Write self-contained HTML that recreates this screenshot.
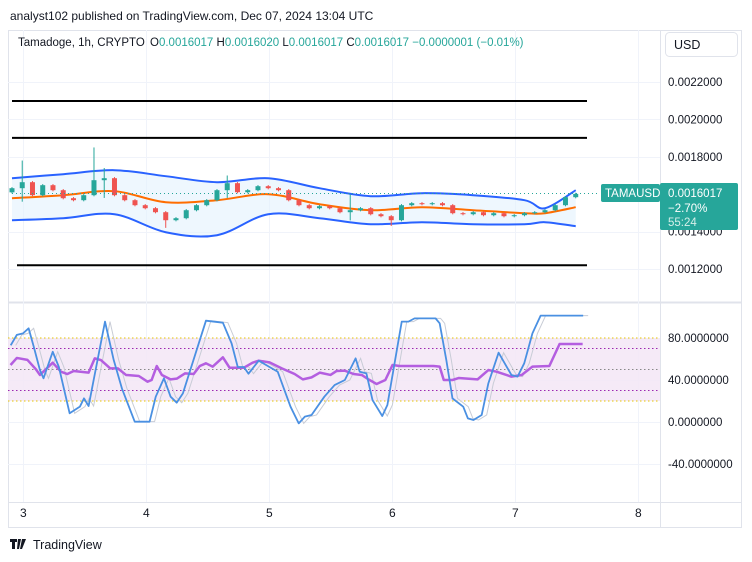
<!DOCTYPE html>
<html><head><meta charset="utf-8">
<style>
body{margin:0;background:#fff;font-family:"Liberation Sans",sans-serif;}
#wrap{position:relative;width:752px;height:562px;overflow:hidden;background:#fff}
</style></head>
<body>
<div id="wrap">
<svg id="svg" width="752" height="562" xmlns="http://www.w3.org/2000/svg" font-family="Liberation Sans, sans-serif">
  <text x="10" y="20" font-size="12" fill="#131722">analyst102 published on TradingView.com, Dec 07, 2024 13:04 UTC</text>
  <rect x="8.5" y="30.5" width="733" height="497" fill="none" stroke="#e0e3eb"/>
  <line x1="660.5" y1="30" x2="660.5" y2="527" stroke="#e0e3eb"/>
  <line x1="8" y1="302.5" x2="742" y2="302.5" stroke="#e0e3eb" stroke-width="2"/>
  <line x1="8" y1="502.5" x2="742" y2="502.5" stroke="#e0e3eb"/>
  <g id="grid"></g>
  <g id="oscbg"></g>
  <g id="levels"></g>
  <g id="bb"></g>
  <g id="candles"></g>
  <g id="osc"></g>
  <g id="axes"></g>
  <g>
    <text x="18" y="46" font-size="11.5" fill="#131722">Tamadoge, 1h, CRYPTO</text>
    <text x="150" y="46" font-size="11.5" fill="#131722">O<tspan fill="#26a69a">0.0016017</tspan>  H<tspan fill="#26a69a">0.0016020</tspan>  L<tspan fill="#26a69a">0.0016017</tspan>  C<tspan fill="#26a69a">0.0016017</tspan>  <tspan fill="#26a69a">−0.0000001 (−0.01%)</tspan></text>
  </g>
  <g>
    <rect x="665.5" y="32.5" width="72" height="24" rx="4" fill="#fff" stroke="#e0e3eb"/>
    <text x="674" y="49" font-size="12.5" fill="#131722">USD</text>
  </g>
  <g>
    <line x1="12" y1="193.5" x2="600" y2="193.5" stroke="#26a69a" stroke-dasharray="1,3"/>
    <rect x="601" y="184" width="59" height="18" rx="2" fill="#26a69a"/>
    <text x="605" y="197" font-size="11.5" fill="#fff">TAMAUSD</text>
    <rect x="660" y="183" width="78" height="47" rx="2" fill="#26a69a"/>
    <text x="668" y="197" font-size="11.5" fill="#fff">0.0016017</text>
    <text x="668" y="212" font-size="11.5" fill="#fff">−2.70%</text>
    <text x="668" y="226" font-size="11.5" fill="#d5efe9">55:24</text>
  </g>
  <g>
    <path d="M10 539h7v3h-2v7h-3v-7h-2z M18 539h3l-2 10h-2z M22 539h4l-4 10h-2z" fill="#131722"/>
    <text x="33" y="549" font-size="12.5" fill="#131722">TradingView</text>
  </g>
</svg>
</div>
<script>
// ---- data ----
const closes = [0.0016321,0.0016642,0.0015947,0.0016482,0.0016214,0.0015786,0.0015679,0.0015947,0.0016749,0.0016856,
0.0015947,0.0015679,0.0015412,0.0015251,0.0015037,0.0014609,0.0014716,0.0015144,0.0015412,0.0015679,
0.0016214,0.0016589,0.0016107,0.0016214,0.0016428,0.0016321,0.0016214,0.0015679,0.0015412,0.0015251,
0.0015358,0.0015251,0.0015037,0.0015144,0.0015251,0.0014930,0.0014823,0.0014609,0.0015412,0.0015519,
0.0015465,0.0015519,0.0015412,0.0014984,0.0014930,0.0015037,0.0014877,0.0014984,0.0014823,0.0014877,
0.0014984,0.0015037,0.0015144,0.0015412,0.0015840,0.0016017];
const firstOpen = 0.0016100;
const spikeIdx = [1,8,9,15,21,33,37];
const spikeHigh = [0.0017800,0.0018500,0.0017400,0.0014700,0.0017000,0.0016000,0.0014700];
const spikeLow  = [0.0015600,0.0016000,0.0015800,0.0014200,0.0015800,0.0014600,0.0014300];
const bandIdx = [0,5,10,15,20,25,30,35,40,45,50,52,55];
const bbUpper = [0.0016856,0.0017070,0.0017284,0.0016963,0.0016642,0.0016856,0.0016321,0.0015893,0.0016054,0.0015947,0.0015679,0.0015251,0.0016214];
const bbMiddle = [0.0015786,0.0015947,0.0016161,0.0015572,0.0015679,0.0016000,0.0015465,0.0015144,0.0015305,0.0015144,0.0014984,0.0014984,0.0015305];
const bbLower = [0.0014609,0.0014716,0.0014930,0.0013967,0.0013807,0.0014930,0.0014716,0.0014395,0.0014502,0.0014395,0.0014395,0.0014502,0.0014288];
const levelPrices = [0.0020985,0.0019010,0.0012200];
const kHours = [-2.4,-1.2,0,1.1,2.1,3.3,4,5.8,7,9.1,11.1,11.9,12.8,16,17.7,19.3,21.8,24.7,25.9,27.5,28.8,30,31.2,35.7,39,40.7,41.9,43.1,44,46,48.1,49.7,52.2,53.8,55,56.3,58.8,60.8,62.8,64.9,65.7,67,68.2,70.1,71.1,73.9,75.2,76.4,80.5,81.3,82.6,83.8,85.9,86.8,87.9,89.5,90.8,92.8,95.3,96.5,97.8,99.4,101,109.3];
const kValues = [73,83,84.4,89.2,71.7,49.5,41.6,66.9,52.4,8.3,14.6,22.5,15.2,95.6,59,32,0.3,0.3,24.1,41.6,24.1,18.4,27.3,96.5,94.6,74.9,52.4,52.4,46,58.4,52.4,47.9,14.6,-1.3,5.1,6.7,24.1,35.2,40,60.6,47.9,46.3,20.9,5.7,16.2,95.6,95.6,98.7,98.7,94,59,22.5,14.6,3.5,1.9,6.7,36.8,66,44.8,43.2,55.9,84.4,101.3,101.3];
const rsiHours = [-2.43,-1.2,0.85,2.5,3.3,5.8,7.4,8.65,9.9,12.8,14,15.2,17,18.5,20.1,22.6,24.3,25.1,26.1,27.1,28.8,30,31.6,33.3,34.5,35.7,37,39,40.3,43.1,44.8,46,48.1,50.5,53,54.6,56.3,57.9,60,61.2,62.8,64.5,66.1,67.4,69,70.7,72.1,73.5,80.1,81.3,82.1,83.8,85,88.7,90.8,92.4,95.3,97.3,99.4,102.7,104.7,109.2];
const rsiValues = [54.3,61,59.2,50.3,44.8,56.5,47.9,45.7,48.6,47,60.6,59,51.1,51.1,44.8,43.8,38.4,40,53.3,44.8,40.6,41.3,46.3,45.7,53.3,55.9,52.7,61.6,51.7,51.7,56.5,58.4,56.8,51.1,45.7,40.6,42.5,47,44.8,48.6,48.9,45.7,44.8,40.6,36.2,40,54.3,53.3,53.3,52.7,40,40,41.9,40.6,49.5,47.9,43.2,44.8,52.7,53.3,74.3,74.3];
const priceTicks = [0.0022,0.0020,0.0018,0.0014,0.0012];
const priceTickLabels = ["0.0022000","0.0020000","0.0018000","0.0014000","0.0012000"];
const oscTicks = [80,40,0,-40];
const oscTickLabels = ["80.0000000","40.0000000","0.0000000","-40.0000000"];
const dayTicks = [0,24,48,72,96,120];
const dayLabels = ["3","4","5","6","7","8"];
const candleStartHour = -2.15, candleStepHours = 2;

// ---- scales ----
const NS="http://www.w3.org/2000/svg";
const xH = h => 23 + h*5.125;
const yP = p => 82 + (0.0022 - p)/0.0002*37.4;
const yO = v => 422 - v*1.05;
function mk(tag, attrs, parent){const e=document.createElementNS(NS,tag);for(const k in attrs)e.setAttribute(k,attrs[k]);document.getElementById(parent).appendChild(e);return e;}

// grid
dayTicks.forEach((d,i)=>{
  const x=Math.round(xH(d))+0.5;
  const g=mk('line',{x1:x,y1:30,x2:x,y2:502,stroke:'#f0f3fa'},'grid');
  
  
  const t=mk('text',{x:xH(d)-3,y:517,'font-size':12,fill:'#131722'},'axes');
  t.textContent=dayLabels[i];
  
  
});
priceTicks.forEach((p,i)=>{
  const y=Math.round(yP(p))+0.5;
  const g=mk('line',{x1:8,y1:y,x2:660,y2:y,stroke:'#f0f3fa'},'grid');
  
  
  const t=mk('text',{x:668,y:yP(p)+4,'font-size':11.5,fill:'#131722'},'axes');
  t.textContent=priceTickLabels[i];
  
  
});
oscTicks.forEach((v,i)=>{
  const y=Math.round(yO(v))+0.5;
  const g=mk('line',{x1:8,y1:y,x2:660,y2:y,stroke:'#f0f3fa'},'grid');
  
  
  const t=mk('text',{x:668,y:yO(v)+4,'font-size':11.5,fill:'#131722'},'axes');
  t.textContent=oscTickLabels[i];
  
  
});

// oscillator bands
let ob=mk('rect',{x:8,y:yO(80),width:652,height:yO(20)-yO(80),fill:'#f3e6f6',opacity:0.85},'oscbg');


[[80,'#e6c400'],[20,'#e6c400'],[70,'#9c27b0'],[30,'#9c27b0'],[50,'#888']].forEach(l=>{
  const y=yO(l[0]);
  const e=mk('line',{x1:8,y1:y,x2:660,y2:y,stroke:l[1],'stroke-dasharray':'1.5,2.5','stroke-width':1},'oscbg');
  
  
});

// horizontal levels
levelPrices.forEach((p,i)=>{
  const y=yP(p);
  const e=mk('line',{x1:i==2?17:12,y1:y,x2:587,y2:y,stroke:'#000','stroke-width':2},'levels');
  
  
});

// bollinger
function smooth(pts){
  let d=`M${pts[0][0]},${pts[0][1]}`;
  for(let i=0;i<pts.length-1;i++){
    const p0=pts[Math.max(0,i-1)],p1=pts[i],p2=pts[i+1],p3=pts[Math.min(pts.length-1,i+2)];
    const c1=[p1[0]+(p2[0]-p0[0])/6,p1[1]+(p2[1]-p0[1])/6],c2=[p2[0]-(p3[0]-p1[0])/6,p2[1]-(p3[1]-p1[1])/6];
    d+=`C${c1[0]},${c1[1]} ${c2[0]},${c2[1]} ${p2[0]},${p2[1]}`;
  }
  return d;
}
const bx = i => xH(candleStartHour + bandIdx[i]*candleStepHours);
const up = bbUpper.map((p,i)=>[bx(i),yP(p)]);
const md = bbMiddle.map((p,i)=>[bx(i),yP(p)]);
const lo = bbLower.map((p,i)=>[bx(i),yP(p)]);
const revLo = lo.slice().reverse();
let fill = mk('path',{d:smooth(up)+' L'+revLo[0][0]+','+revLo[0][1]+smooth(revLo).slice(smooth(revLo).indexOf('C')-0)+'Z',fill:'#e3f2fd',opacity:0.6,stroke:'none'},'bb');
fill.setAttribute('d', smooth(up)+' L'+revLo[0][0]+','+revLo[0][1]+' '+smooth(revLo).replace(/^M[^C]*/,'')+'Z');


let u=mk('path',{d:smooth(up),fill:'none',stroke:'#2962ff','stroke-width':2},'bb');


let l=mk('path',{d:smooth(lo),fill:'none',stroke:'#2962ff','stroke-width':2},'bb');


let m=mk('path',{d:smooth(md),fill:'none',stroke:'#ff6d00','stroke-width':2},'bb');



// candles
closes.forEach((c,i)=>{
  const o = i==0 ? firstOpen : closes[i-1];
  const x = xH(candleStartHour + i*candleStepHours);
  const bull = c>=o, col = bull ? '#26a69a' : '#ef5350';
  let hi=Math.max(o,c)+0.000006, lw=Math.min(o,c)-0.000006;
  const k=spikeIdx.indexOf(i);
  if(k>=0){hi=Math.max(hi,spikeHigh[k]);lw=Math.min(lw,spikeLow[k]);}
  const w=mk('line',{x1:x,y1:yP(hi),x2:x,y2:yP(lw),stroke:col,'stroke-width':1},'candles');
  
  
  const top=yP(Math.max(o,c)), h=Math.max(1,yP(Math.min(o,c))-top);
  const b=mk('rect',{x:x-2.5,y:top,width:5,height:h,fill:col},'candles');
  
  
});

// oscillators
const kPts = kHours.map((h,i)=>`${xH(h)},${yO(kValues[i])}`).join(' ');
const dPts = kHours.map((h,i)=>`${xH(h)+5},${yO(kValues[i])}`).join(' ');
let dl=mk('polyline',{points:dPts,fill:'none',stroke:'#c8ccd6','stroke-width':1},'osc');


let rl=mk('polyline',{points:rsiHours.map((h,i)=>`${xH(h)},${yO(rsiValues[i])}`).join(' '),fill:'none',stroke:'#b45ee0','stroke-width':2.5,'stroke-linejoin':'round'},'osc');


let kl=mk('polyline',{points:kPts,fill:'none',stroke:'#4a90e2','stroke-width':1.8,'stroke-linejoin':'round'},'osc');


</script>
</body></html>
